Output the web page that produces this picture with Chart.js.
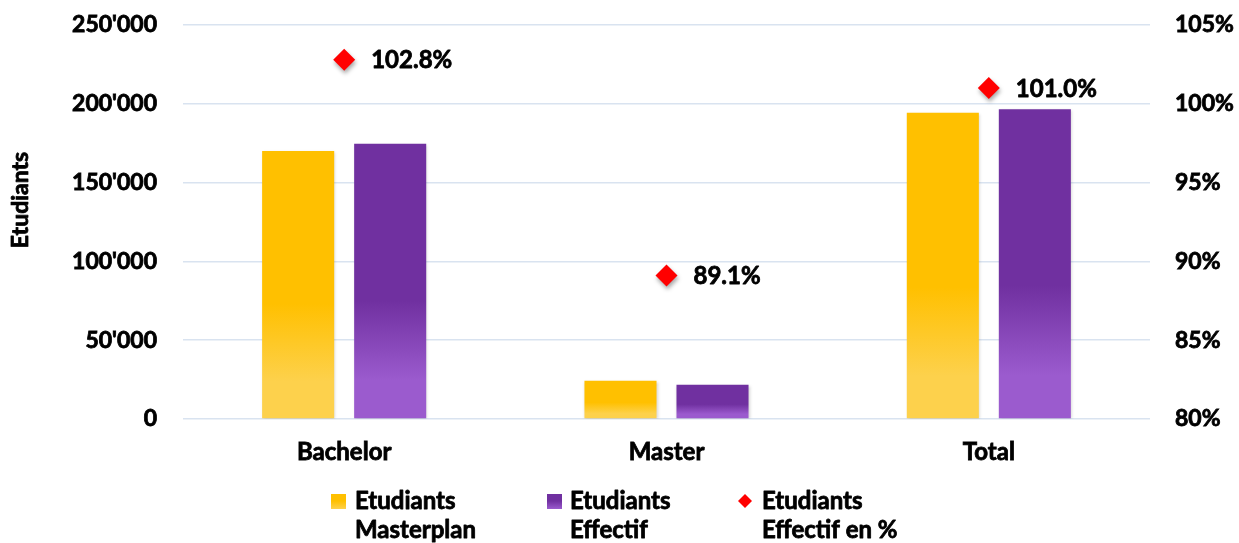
<!DOCTYPE html>
<html><head><meta charset="utf-8">
<script src="https://cdn.jsdelivr.net/npm/chart.js@4/dist/chart.umd.min.js"></script>
<style>html,body{margin:0;padding:0;background:#fff}#wrap{width:1239px;height:543px}</style>
</head><body><div id="wrap"><canvas id="c" width="1239" height="543"></canvas></div>
<script>
const categories = ['Bachelor', 'Master', 'Total'];
const masterplan = [170000, 24300, 194300];
const effectif = [174600, 21700, 196600];
const effectifPct = [102.8, 89.1, 101.0];
const leftTicks = [0, 50000, 100000, 150000, 200000, 250000];
const rightTicks = [80, 85, 90, 95, 100, 105];
const seriesNames = [['Etudiants', 'Masterplan'], ['Etudiants', 'Effectif'], ['Etudiants', 'Effectif en %']];
const axisTitle = 'Etudiants';

const FONT = 'Lato';
const FW = 'bold';
const FS = 23;
const STROKE = 0.8;
const fmtThousands = v => String(v).replace(/\B(?=(\d{3})+(?!\d))/g, "'");

const palette = {
  yellow: ['#FFC000', '#FDD14C'],
  purple: ['#7030A0', '#9B5BCE'],
  red: '#FF0000'
};

function barGradient(colors) {
  return function (ctx) {
    if (ctx.type !== 'data') return colors[0];
    const chart = ctx.chart;
    if (!chart.chartArea) return colors[0];
    const ys = chart.scales.y;
    const top = ys.getPixelForValue(ctx.raw);
    const bottom = ys.getPixelForValue(0);
    if (!isFinite(top) || !isFinite(bottom) || bottom - top < 1) return colors[0];
    const g = chart.ctx.createLinearGradient(0, top, 0, bottom);
    g.addColorStop(0, colors[0]);
    g.addColorStop(0.57, colors[0]);
    g.addColorStop(0.86, colors[1]);
    g.addColorStop(1, colors[1]);
    return g;
  };
}

function boldText(ctx, text, x, y) {
  ctx.lineWidth = STROKE;
  ctx.strokeStyle = '#000';
  ctx.lineJoin = 'round';
  ctx.strokeText(text, x, y);
  ctx.fillText(text, x, y);
}

const overlay = {
  id: 'overlay',
  beforeDatasetDraw(chart, args) {
    const ctx = chart.ctx;
    ctx.save();
    if (args.index === 2) {
      ctx.shadowColor = 'rgba(0,0,0,0.35)';
      ctx.shadowBlur = 4;
      ctx.shadowOffsetX = 1;
      ctx.shadowOffsetY = 3;
    } else {
      ctx.shadowColor = 'rgba(0,0,0,0.18)';
      ctx.shadowBlur = 3;
      ctx.shadowOffsetX = 1;
      ctx.shadowOffsetY = 1;
    }
  },
  afterDatasetDraw(chart) {
    chart.ctx.restore();
  },
  afterDraw(chart) {
    const ctx = chart.ctx;
    ctx.save();
    const meta = chart.getDatasetMeta(2);
    ctx.font = `${FW} 24px ${FONT}`;
    ctx.fillStyle = '#000';
    ctx.textAlign = 'left';
    ctx.textBaseline = 'middle';
    meta.data.forEach((pt, i) => {
      boldText(ctx, effectifPct[i].toFixed(1) + '%', pt.x + 27, pt.y + 1);
    });
    ctx.save();
    ctx.translate(21, 200);
    ctx.rotate(-Math.PI / 2);
    ctx.textAlign = 'center';
    ctx.font = `${FW} 23px ${FONT}`;
    boldText(ctx, axisTitle, 0, 0);
    ctx.restore();
    const items = [
      { x: 331, tx: 355, type: 'bar', colors: palette.yellow },
      { x: 547, tx: 570, type: 'bar', colors: palette.purple },
      { x: 745, tx: 762, type: 'diamond' }
    ];
    const l1 = 501, l2 = 530;
    items.forEach((it, i) => {
      if (it.type === 'bar') {
        const g = ctx.createLinearGradient(0, l1 - 8, 0, l1 + 8);
        g.addColorStop(0, it.colors[0]);
        g.addColorStop(0.5, it.colors[0]);
        g.addColorStop(1, it.colors[1]);
        ctx.fillStyle = g;
        ctx.fillRect(it.x, l1 - 7, 15, 15);
      } else {
        ctx.fillStyle = palette.red;
        ctx.beginPath();
        ctx.moveTo(it.x, l1 - 7);
        ctx.lineTo(it.x + 7, l1);
        ctx.lineTo(it.x, l1 + 7);
        ctx.lineTo(it.x - 7, l1);
        ctx.closePath();
        ctx.fill();
      }
      ctx.fillStyle = '#000';
      ctx.font = `${FW} 24px ${FONT}`;
      ctx.textAlign = 'left';
      ctx.textBaseline = 'middle';
      boldText(ctx, seriesNames[i][0], it.tx, l1);
      boldText(ctx, seriesNames[i][1], it.tx, l2);
    });
    ctx.restore();
  }
};

const tickFont = { family: FONT, size: FS, weight: FW };
const zeroPad = s => { s.paddingTop = 0; s.paddingBottom = 0; };

new Chart(document.getElementById('c'), {
  data: {
    labels: categories,
    datasets: [
      { type: 'bar', label: seriesNames[0].join(' '), data: masterplan, yAxisID: 'y',
        backgroundColor: barGradient(palette.yellow), borderWidth: 0, order: 2,
        categoryPercentage: 0.571, barPercentage: 0.783 },
      { type: 'bar', label: seriesNames[1].join(' '), data: effectif, yAxisID: 'y',
        backgroundColor: barGradient(palette.purple), borderWidth: 0, order: 2,
        categoryPercentage: 0.571, barPercentage: 0.783 },
      { type: 'line', label: seriesNames[2].join(' '), data: effectifPct, yAxisID: 'y1',
        showLine: false, pointStyle: 'rectRot', pointRadius: 11, pointHoverRadius: 11,
        pointBackgroundColor: palette.red, pointBorderWidth: 0, borderColor: palette.red,
        backgroundColor: palette.red, order: 0 }
    ]
  },
  options: {
    responsive: false,
    animation: false,
    events: [],
    layout: { padding: { top: 25, bottom: 80, left: 0, right: 0 } },
    plugins: { legend: { display: false }, tooltip: { enabled: false } },
    scales: {
      x: {
        grid: { display: false, drawTicks: false },
        border: { display: false },
        ticks: { font: { family: FONT, size: 24, weight: FW }, color: '#000', padding: 19,
          textStrokeColor: '#000', textStrokeWidth: STROKE },
        afterFit: s => { s.height = 44; s.paddingLeft = 0; s.paddingRight = 0; }
      },
      y: {
        position: 'left',
        min: 0, max: 250000,
        afterBuildTicks: s => { s.ticks = leftTicks.map(v => ({ value: v })); },
        grid: { color: '#D9E3F0', lineWidth: 1.5, drawTicks: false },
        border: { display: false },
        ticks: { font: tickFont, color: '#000', padding: 26, callback: v => fmtThousands(v),
          textStrokeColor: '#000', textStrokeWidth: STROKE },
        afterFit: s => { s.width = 183; zeroPad(s); }
      },
      y1: {
        position: 'right',
        min: 80, max: 105,
        afterBuildTicks: s => { s.ticks = rightTicks.map(v => ({ value: v })); },
        grid: { drawOnChartArea: false, drawTicks: false },
        border: { display: false },
        ticks: { font: tickFont, color: '#000', padding: 25, callback: v => v + '%',
          textStrokeColor: '#000', textStrokeWidth: STROKE },
        afterFit: s => { s.width = 89; zeroPad(s); }
      }
    }
  },
  plugins: [overlay]
});
</script>
</body></html>
